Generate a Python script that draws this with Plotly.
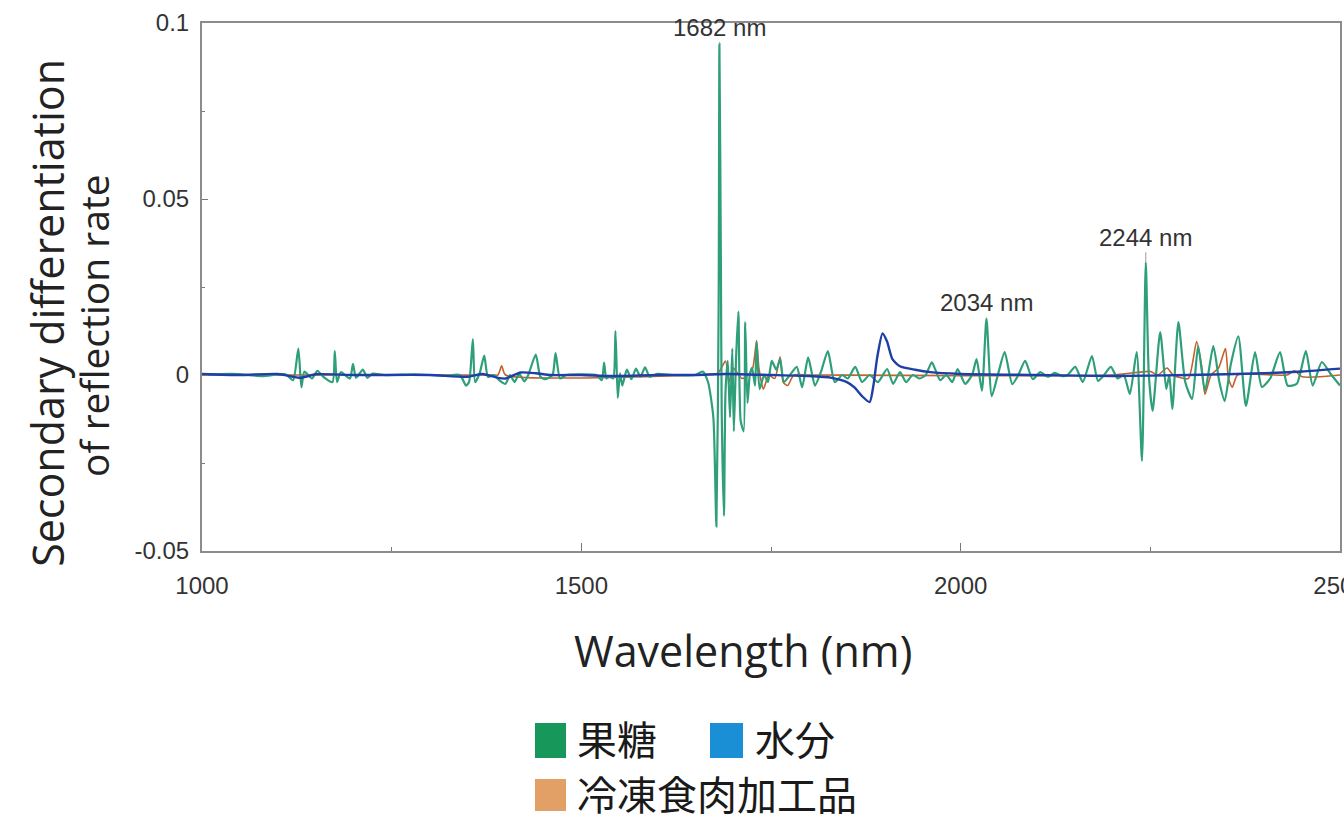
import plotly.graph_objects as go

# Second-derivative NIR reflectance spectra (wavelength in nm)
fructose_nm = [1000, 1040, 1080, 1110, 1120, 1127, 1131, 1135, 1145, 1152, 1160, 1172, 1175, 1178,
               1183, 1195, 1199, 1203, 1212, 1218, 1225, 1240, 1280, 1320, 1340, 1348, 1352, 1357,
               1360, 1366, 1372, 1377, 1385, 1392, 1400, 1406, 1412, 1418, 1425, 1430, 1440, 1446,
               1452, 1462, 1466, 1472, 1480, 1500, 1520, 1527, 1530, 1533, 1537, 1542, 1545, 1548,
               1551, 1554, 1560, 1566, 1572, 1578, 1584, 1590, 1600, 1620, 1650, 1660, 1667, 1674,
               1678, 1681, 1682, 1684, 1685, 1688, 1690, 1693, 1696, 1699, 1701, 1704, 1707, 1710,
               1714, 1716, 1719, 1722, 1725, 1729, 1731, 1735, 1741, 1746, 1751, 1757, 1762, 1767,
               1775, 1784, 1791, 1799, 1808, 1816, 1825, 1834, 1844, 1851, 1861, 1870, 1880, 1891,
               1903, 1911, 1920, 1928, 1937, 1946, 1954, 1962, 1973, 1981, 1989, 1996, 2006, 2015,
               2021, 2028, 2034, 2041, 2049, 2058, 2068, 2076, 2085, 2095, 2105, 2115, 2124, 2134,
               2141, 2151, 2161, 2173, 2181, 2189, 2198, 2207, 2215, 2223, 2232, 2239, 2244, 2248,
               2253, 2263, 2271, 2275, 2279, 2287, 2296, 2305, 2313, 2322, 2333, 2341, 2348, 2356,
               2366, 2376, 2388, 2397, 2408, 2421, 2431, 2443, 2455, 2464, 2476, 2487, 2500]
fructose_val = [0.0, 0.0003, -0.0003, 0.0002, -0.0015, 0.0075, -0.0035, 0.001, -0.001, 0.0012,
                -0.0005, -0.002, 0.0068, -0.002, 0.0008, -0.001, 0.0032, -0.0008, 0.0015, -0.0008,
                0.0004, 0.0, 0.0002, -0.0002, 0.0, -0.003, -0.002, 0.0102, -0.002, 0.0005, 0.0055,
                -0.0005, 0.0, -0.0015, -0.0025, 0.0, -0.002, 0.0003, -0.0018, 0.0, 0.0058, -0.0005,
                -0.0012, 0.0, 0.0062, -0.001, 0.0, 0.0002, 0.0, -0.0015, 0.0035, -0.001, -0.0004,
                -0.001, 0.0125, -0.0065, 0.0005, -0.003, 0.0015, -0.0012, 0.0018, -0.0005, 0.0022,
                -0.0005, 0.0003, 0.0, 0.0, 0.001, -0.002, -0.012, -0.043, 0.02, 0.094, 0.03, -0.01,
                -0.040, -0.005, 0.004, -0.012, 0.0075, -0.016, 0.005, 0.018, -0.013, -0.016, 0.015,
                -0.008, 0.0, 0.002, -0.003, 0.0094, -0.004, 0.0, -0.002, 0.004, 0.0015, 0.0045,
                -0.002, 0.0, 0.0023, -0.0035, 0.005, -0.003, 0.001, 0.0068, -0.002, 0.0, -0.001,
                0.0023, -0.002, 0.0, -0.002, 0.0017, -0.0025, 0.0008, -0.002, 0.0, -0.001, 0.0,
                0.0036, -0.0015, 0.0, -0.002, 0.0017, -0.0025, 0.0, 0.0045, -0.0045, 0.016, -0.006,
                0.0, 0.0065, -0.0026, 0.0, 0.004, -0.0012, 0.0008, -0.0005, 0.0006, -0.0003, 0.0,
                0.0023, -0.002, 0.0054, -0.0017, 0.0, 0.0023, -0.001, 0.0, -0.0054, 0.0065, -0.0244,
                0.032, 0.0, -0.0102, 0.0122, -0.004, 0.0, -0.0097, 0.015, -0.002, -0.0068, 0.0082,
                -0.0045, 0.0082, -0.002, -0.0074, 0.003, 0.011, -0.0088, 0.0065, -0.0034, -0.001,
                0.0065, -0.003, -0.0025, 0.0068, -0.003, 0.0037, 0.0005, -0.003]

water_nm = [1000, 1050, 1100, 1130, 1150, 1200, 1300, 1350, 1370, 1390, 1400, 1420, 1440, 1460,
            1500, 1540, 1600, 1650, 1690, 1750, 1800, 1830, 1850, 1860, 1870, 1880, 1885, 1890,
            1897, 1903, 1910, 1920, 1940, 1960, 2000, 2100, 2200, 2300, 2400, 2450, 2500]
water_val = [0.0003, 0.0, 0.0003, -0.0008, 0.0002, 0.0, 0.0, -0.0005, 0.0003, -0.0008, -0.001,
             0.0007, 0.0005, 0.0, 0.0, -0.0003, 0.0, 0.0, 0.0003, 0.0, -0.0003, -0.0008, -0.002,
             -0.0035, -0.006, -0.0077, -0.003, 0.005, 0.0118, 0.0095, 0.0045, 0.0025, 0.0015,
             0.0008, 0.0003, 0.0, -0.0003, 0.0, 0.0005, 0.001, 0.0018]

meat_nm = [1000, 1380, 1390, 1395, 1400, 1650, 1680, 1690, 1695, 1700, 1712, 1720, 1726, 1731,
           1734, 1740, 1747, 1755, 1762, 1766, 1772, 1780, 1800, 2200, 2250, 2260, 2272, 2280,
           2300, 2311, 2318, 2322, 2330, 2340, 2349, 2353, 2358, 2365, 2430, 2440, 2450, 2500]
meat_val = [0.0, 0.0, 0.0, 0.0026, 0.0, 0.0, 0.0005, 0.004, -0.002, 0.002, -0.001, 0.0, 0.002,
            0.0098, 0.002, -0.004, 0.0, -0.001, 0.0052, -0.002, -0.003, 0.0, 0.0, 0.0, 0.001, 0.0,
            0.002, 0.0, -0.001, 0.0095, 0.002, -0.0055, 0.0, 0.002, 0.0075, -0.001, -0.0035, 0.0,
            0.0, 0.0012, -0.0005, 0.0]

peak_labels = [1682, 2034, 2244]
peak_label_offsets = [-17, -16, -25]

x_ticks = [1000, 1500, 2000, 2500]
y_ticks = [-0.05, 0, 0.05, 0.1]
y_tick_text = ["-0.05", "0", "0.05", "0.1"]

legend_names = ["果糖", "水分", "冷凍食肉加工品"]
legend_colors = ["#17985a", "#1a8fd6", "#e2a066"]

fig = go.Figure()
fig.add_trace(go.Scatter(x=meat_nm, y=meat_val, mode="lines", name=legend_names[2],
                         line=dict(color="#c4622c", width=1.6, shape="spline", smoothing=0.6)))
fig.add_trace(go.Scatter(x=fructose_nm, y=fructose_val, mode="lines", name=legend_names[0],
                         line=dict(color="#2f9f7a", width=2.2, shape="spline", smoothing=0.6)))
fig.add_trace(go.Scatter(x=water_nm, y=water_val, mode="lines", name=legend_names[1],
                         line=dict(color="#1f3fa6", width=2.4, shape="spline", smoothing=0.6)))

tick_font = dict(family="Liberation Sans, Arial", size=24, color="#333333")

# peak markers with a short leader line
for nm, off in zip(peak_labels, peak_label_offsets):
    val = fructose_val[fructose_nm.index(nm)]
    fig.add_annotation(x=nm, y=val, xref="x", yref="y", text=f"{nm} nm", showarrow=True,
                       arrowhead=0, arrowwidth=1, arrowcolor="#9a9a9a", ax=0, ay=off,
                       font=tick_font)

# axis titles
fig.add_annotation(text="Secondary differentiation", xref="paper", yref="paper",
                   x=(48 - 202) / 1138, y=0.451, textangle=-90, showarrow=False,
                   xanchor="center", yanchor="middle",
                   font=dict(family="Open Sans", size=43, color="#222222"))
fig.add_annotation(text="of reflection rate", xref="paper", yref="paper",
                   x=(93 - 202) / 1138, y=0.426, textangle=-90, showarrow=False,
                   xanchor="center", yanchor="middle",
                   font=dict(family="Open Sans", size=39, color="#222222"))
fig.add_annotation(text="Wavelength (nm)", xref="paper", yref="paper", x=0.4754, y=-0.1875,
                   showarrow=False, xanchor="center", yanchor="middle",
                   font=dict(family="Open Sans", size=43, color="#222222"))

# colour-key below the chart
legend_boxes = [(0.2926, 0.3199, -0.3920, -0.3257),
                (0.4464, 0.4754, -0.3920, -0.3257),
                (0.2926, 0.3199, -0.4924, -0.4318)]
legend_text_pos = [(0.3286, -0.3542), (0.4851, -0.3542), (0.3286, -0.4583)]
for name, color, (x0, x1, y0, y1), (tx, ty) in zip(legend_names, legend_colors, legend_boxes,
                                                   legend_text_pos):
    fig.add_shape(type="rect", xref="paper", yref="paper", x0=x0, x1=x1, y0=y0, y1=y1,
                  fillcolor=color, line=dict(width=0))
    fig.add_annotation(text=name, xref="paper", yref="paper", x=tx, y=ty, showarrow=False,
                       xanchor="left", yanchor="middle", borderpad=0,
                       font=dict(family="Noto Sans CJK JP", size=40, color="#1a1a1a"))

axis_common = dict(showgrid=False, zeroline=False, showline=True, linecolor="#8c8c8c",
                   linewidth=2, mirror=True, ticks="inside", tickcolor="#777777",
                   tickfont=tick_font, automargin=False)

fig.update_xaxes(range=[1000, 2500], tickvals=x_ticks, ticklen=8, ticklabelstandoff=12,
                 ticklabeloverflow="allow",
                 minor=dict(ticks="inside", ticklen=4, tickvals=[1250, 1750, 2250],
                            tickcolor="#777777"),
                 **axis_common)
fig.update_yaxes(range=[-0.05, 0.1], tickvals=y_ticks, ticktext=y_tick_text, ticklen=6,
                 ticklabelstandoff=6,
                 minor=dict(ticks="inside", ticklen=3, tickvals=[-0.025, 0.025, 0.075],
                            tickcolor="#777777"),
                 **axis_common)

fig.update_layout(width=1344, height=823, margin=dict(l=202, r=4, t=23, b=272),
                  plot_bgcolor="white", paper_bgcolor="white", showlegend=False)

fig.write_html("out.html")
